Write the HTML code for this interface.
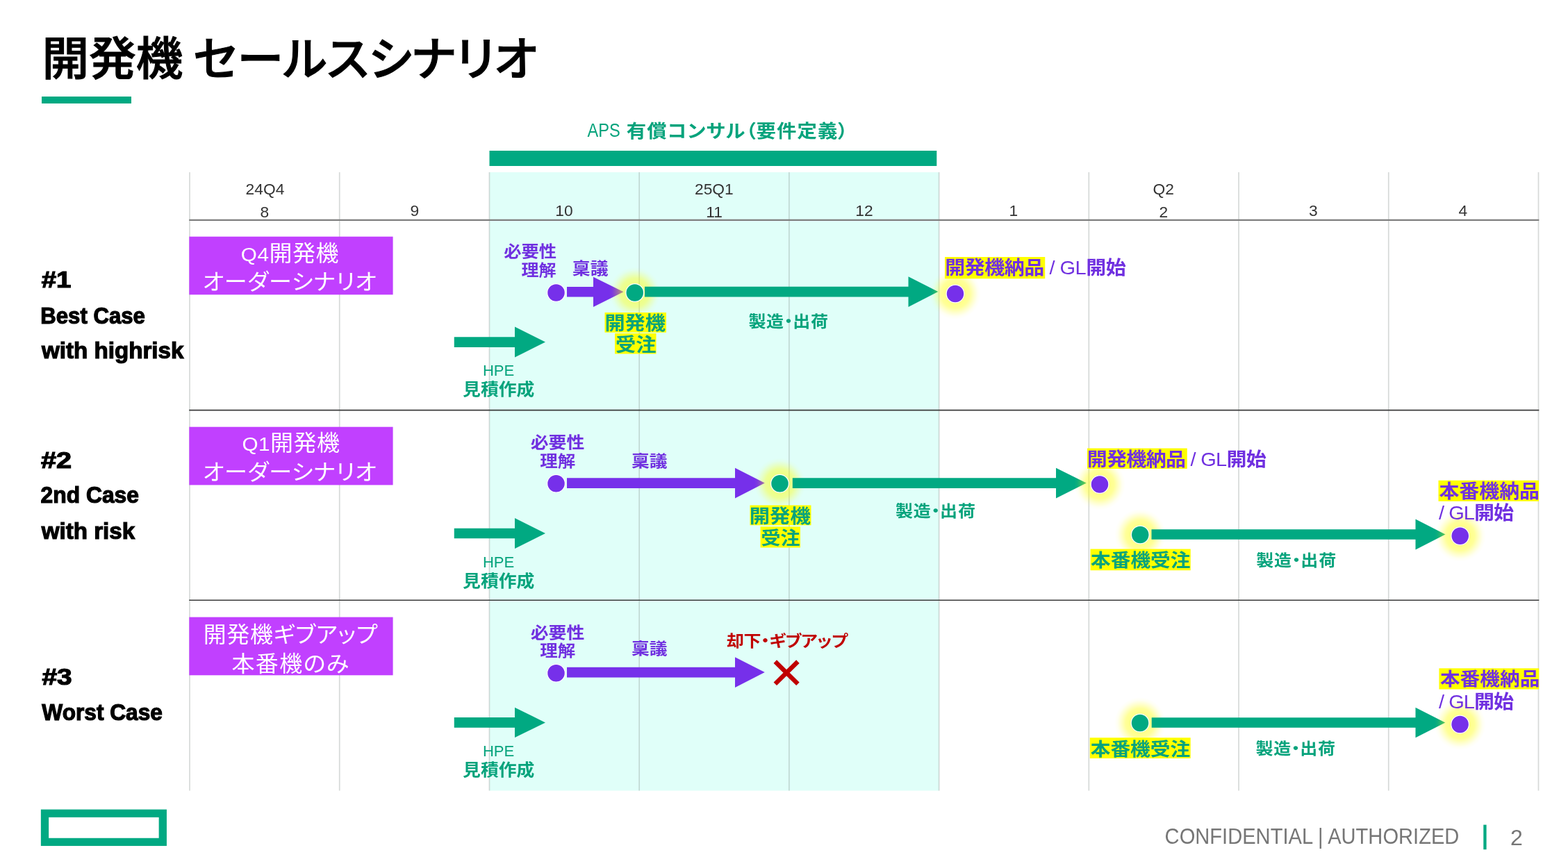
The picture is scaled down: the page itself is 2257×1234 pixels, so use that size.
<!DOCTYPE html>
<html lang="ja"><head><meta charset="utf-8"><title>開発機 セールスシナリオ</title>
<style>
html,body{margin:0;padding:0;background:#fff;}
body{width:2257px;height:1234px;overflow:hidden;position:relative;font-family:"Liberation Sans", "Noto Sans CJK JP", sans-serif;}
#slide{position:absolute;left:0;top:0;width:2257px;height:1234px;overflow:hidden;background:#fff;filter:blur(0.45px);}
#shapes{position:absolute;left:0;top:0;}
.t{position:absolute;white-space:nowrap;line-height:1;margin:0;padding:0;font-kerning:normal;transform-origin:50% 50%;}
.b{font-weight:700;} .l{font-weight:300;} .r{font-weight:400;} .m{font-weight:500;}
.g{color:#06A37C;} .p{color:#7030E0;} .w{color:#fff;} .k{color:#000;} .red{color:#C00000;}
.pa{font-feature-settings:"palt" 1;}
.ts{-webkit-text-stroke:1.1px #000;}
.rs{-webkit-text-stroke:1.2px #000;}
.q{font-size:0.9em;}
.hd{color:#333;} .ft{color:#767676;}
.md{display:inline-block;width:0.5em;text-indent:-0.25em;}

</style></head><body><div id="slide">
<svg id="shapes" width="2257" height="1234" viewBox="0 0 2257 1234">
<defs><radialGradient id="glow"><stop offset="0" stop-color="#ffff00" stop-opacity="0.46"/><stop offset="0.4" stop-color="#ffff00" stop-opacity="0.46"/><stop offset="0.56" stop-color="#ffff00" stop-opacity="0.4"/><stop offset="0.73" stop-color="#ffff00" stop-opacity="0.2"/><stop offset="0.88" stop-color="#ffff00" stop-opacity="0.05"/><stop offset="1" stop-color="#ffff00" stop-opacity="0"/></radialGradient></defs>
<rect x="704.50" y="248.00" width="647.00" height="890.50" fill="#E0FFF9" />
<rect x="704.50" y="217.00" width="643.80" height="22.00" fill="#01A982" />
<rect x="60.00" y="139.00" width="129.00" height="10.00" fill="#01A982" />
<line x1="273.00" y1="248" x2="273.00" y2="1138.5" stroke="#7f8a86" stroke-opacity="0.32" stroke-width="1.7"/>
<line x1="488.72" y1="248" x2="488.72" y2="1138.5" stroke="#7f8a86" stroke-opacity="0.32" stroke-width="1.7"/>
<line x1="704.44" y1="248" x2="704.44" y2="1138.5" stroke="#7f8a86" stroke-opacity="0.32" stroke-width="1.7"/>
<line x1="920.16" y1="248" x2="920.16" y2="1138.5" stroke="#7f8a86" stroke-opacity="0.32" stroke-width="1.7"/>
<line x1="1135.88" y1="248" x2="1135.88" y2="1138.5" stroke="#7f8a86" stroke-opacity="0.32" stroke-width="1.7"/>
<line x1="1351.60" y1="248" x2="1351.60" y2="1138.5" stroke="#7f8a86" stroke-opacity="0.32" stroke-width="1.7"/>
<line x1="1567.32" y1="248" x2="1567.32" y2="1138.5" stroke="#7f8a86" stroke-opacity="0.32" stroke-width="1.7"/>
<line x1="1783.04" y1="248" x2="1783.04" y2="1138.5" stroke="#7f8a86" stroke-opacity="0.32" stroke-width="1.7"/>
<line x1="1998.76" y1="248" x2="1998.76" y2="1138.5" stroke="#7f8a86" stroke-opacity="0.32" stroke-width="1.7"/>
<line x1="2214.48" y1="248" x2="2214.48" y2="1138.5" stroke="#7f8a86" stroke-opacity="0.32" stroke-width="1.7"/>
<line x1="272.2" y1="316.9" x2="2215.3" y2="316.9" stroke="#7f7f7f" stroke-width="2.4"/>
<line x1="272.2" y1="590.6" x2="2215.3" y2="590.6" stroke="#3a3a3a" stroke-width="1.6"/>
<line x1="272.2" y1="864.2" x2="2215.3" y2="864.2" stroke="#3a3a3a" stroke-width="1.6"/>
<rect x="272.30" y="340.70" width="293.30" height="83.60" fill="#C140FF" />
<rect x="272.30" y="614.70" width="293.30" height="83.70" fill="#C140FF" />
<rect x="272.30" y="888.60" width="293.30" height="83.70" fill="#C140FF" />
<rect x="870.50" y="450.00" width="88.50" height="28.75" fill="#FFFF00" />
<rect x="885.00" y="480.00" width="59.50" height="29.50" fill="#FFFF00" />
<rect x="1360.00" y="370.00" width="144.25" height="31.25" fill="#FFFF00" />
<rect x="1079.50" y="727.50" width="88.00" height="28.75" fill="#FFFF00" />
<rect x="1094.50" y="758.30" width="57.50" height="30.20" fill="#FFFF00" />
<rect x="1565.00" y="645.50" width="143.75" height="29.50" fill="#FFFF00" />
<rect x="1569.50" y="790.50" width="144.25" height="30.75" fill="#FFFF00" />
<rect x="2070.50" y="691.75" width="144.50" height="30.00" fill="#FFFF00" />
<rect x="1568.80" y="1062.20" width="144.90" height="29.80" fill="#FFFF00" />
<rect x="2071.40" y="962.30" width="143.90" height="30.20" fill="#FFFF00" />
<polygon points="816.00,413.00 854.00,413.00 854.00,398.70 897.50,420.30 854.00,441.90 854.00,427.60 816.00,427.60" fill="#7630EA"/>
<polygon points="816.00,688.20 1058.00,688.20 1058.00,673.70 1100.80,695.60 1058.00,717.50 1058.00,703.00 816.00,703.00" fill="#7630EA"/>
<polygon points="816.00,960.70 1058.00,960.70 1058.00,946.20 1100.80,968.10 1058.00,990.00 1058.00,975.50 816.00,975.50" fill="#7630EA"/>
<circle cx="913.75" cy="421.50" r="37" fill="url(#glow)"/>
<circle cx="1122.50" cy="696.25" r="37" fill="url(#glow)"/>
<circle cx="1641.25" cy="770.00" r="37" fill="url(#glow)"/>
<circle cx="1641.00" cy="1041.00" r="37" fill="url(#glow)"/>
<polygon points="653.75,485.30 741.00,485.30 741.00,470.60 785.00,492.60 741.00,514.60 741.00,499.90 653.75,499.90" fill="#01A982"/>
<polygon points="928.00,412.70 1307.50,412.70 1307.50,398.30 1350.30,420.10 1307.50,441.90 1307.50,427.50 928.00,427.50" fill="#01A982"/>
<polygon points="653.75,760.70 741.00,760.70 741.00,746.00 785.00,768.00 741.00,790.00 741.00,775.30 653.75,775.30" fill="#01A982"/>
<polygon points="1140.80,688.20 1520.00,688.20 1520.00,673.70 1563.80,695.60 1520.00,717.50 1520.00,703.00 1140.80,703.00" fill="#01A982"/>
<polygon points="1657.50,762.20 2037.50,762.20 2037.50,747.60 2080.50,769.50 2037.50,791.40 2037.50,776.80 1657.50,776.80" fill="#01A982"/>
<polygon points="653.75,1033.10 741.00,1033.10 741.00,1018.70 785.00,1040.40 741.00,1062.10 741.00,1047.70 653.75,1047.70" fill="#01A982"/>
<polygon points="1657.70,1033.20 2037.50,1033.20 2037.50,1018.80 2080.30,1040.50 2037.50,1062.20 2037.50,1047.80 1657.70,1047.80" fill="#01A982"/>
<circle cx="1375.00" cy="423.00" r="37" fill="url(#glow)"/>
<circle cx="1583.00" cy="697.50" r="37" fill="url(#glow)"/>
<circle cx="2101.75" cy="771.75" r="37" fill="url(#glow)"/>
<circle cx="2101.60" cy="1043.00" r="37" fill="url(#glow)"/>
<circle cx="913.75" cy="421.50" r="12.9" fill="#01A982" stroke="#fff" stroke-width="1.3"/>
<circle cx="1122.50" cy="696.25" r="12.9" fill="#01A982" stroke="#fff" stroke-width="1.3"/>
<circle cx="1641.25" cy="770.00" r="12.9" fill="#01A982" stroke="#fff" stroke-width="1.3"/>
<circle cx="1641.00" cy="1041.00" r="12.9" fill="#01A982" stroke="#fff" stroke-width="1.3"/>
<circle cx="1375.00" cy="423.00" r="12.9" fill="#7630EA" stroke="#fff" stroke-width="1.3"/>
<circle cx="1583.00" cy="697.50" r="12.9" fill="#7630EA" stroke="#fff" stroke-width="1.3"/>
<circle cx="2101.75" cy="771.75" r="12.9" fill="#7630EA" stroke="#fff" stroke-width="1.3"/>
<circle cx="2101.60" cy="1043.00" r="12.9" fill="#7630EA" stroke="#fff" stroke-width="1.3"/>
<circle cx="800.50" cy="421.50" r="12.9" fill="#7630EA" stroke="#fff" stroke-width="1.3"/>
<circle cx="800.50" cy="696.25" r="12.9" fill="#7630EA" stroke="#fff" stroke-width="1.3"/>
<circle cx="800.50" cy="969.25" r="12.9" fill="#7630EA" stroke="#fff" stroke-width="1.3"/>
<path d="M1115.8 952.6 L1148.4 984.8 M1148.4 952.6 L1115.8 984.8" stroke="#C00000" stroke-width="6.4" fill="none"/>
<rect x="64.5" y="1171.2" width="169.8" height="41.2" fill="none" stroke="#01A982" stroke-width="11.3"/>
<rect x="2135.30" y="1187.60" width="4.30" height="35.60" fill="#01A982" />
</svg>
<div class="t m k ts" id="title_a" style="left:60.60px;top:52.30px;font-size:67.64px;transform:scale(1.0000,0.9700);">開発機</div>
<div class="t m k pa ts" id="title_b" style="left:278.30px;top:52.90px;font-size:66.80px;letter-spacing:0.114px;">セールスシナリオ</div>
<div class="t r g" id="aps_a" style="left:840.62px;top:173.75px;font-size:28.00px;transform:scale(0.8434,1.0000);">APS</div>
<div class="t b g pa" id="aps" style="left:901.75px;top:174.50px;font-size:28.40px;letter-spacing:1.042px;transform:scale(1.0000,0.9300);">有償コンサル（要件定義）</div>
<div class="t r hd" id="q_24q4" style="left:353.55px;top:261.00px;font-size:22.80px;">24Q4</div>
<div class="t r hd" id="q_25q1" style="left:1000.00px;top:261.00px;font-size:22.80px;">25Q1</div>
<div class="t r hd" id="q_q2" style="left:1659.50px;top:261.00px;font-size:22.80px;">Q2</div>
<div class="t r hd" id="m_8" style="left:374.50px;top:293.60px;font-size:22.80px;">8</div>
<div class="t r hd" id="m_9" style="left:590.50px;top:292.40px;font-size:22.80px;">9</div>
<div class="t r hd" id="m_10" style="left:799.25px;top:292.40px;font-size:22.80px;">10</div>
<div class="t r hd" id="m_11" style="left:1016.25px;top:293.60px;font-size:22.80px;">11</div>
<div class="t r hd" id="m_12" style="left:1231.25px;top:292.40px;font-size:22.80px;">12</div>
<div class="t r hd" id="m_1" style="left:1452.50px;top:292.40px;font-size:22.80px;">1</div>
<div class="t r hd" id="m_2" style="left:1668.50px;top:293.60px;font-size:22.80px;">2</div>
<div class="t r hd" id="m_3" style="left:1884.00px;top:292.40px;font-size:22.80px;">3</div>
<div class="t r hd" id="m_4" style="left:2099.50px;top:292.40px;font-size:22.80px;">4</div>
<div class="t b k rs" id="l1a" style="left:62.70px;top:387.30px;font-size:32.50px;transform:scale(1.1810,1.0000);">#1</div>
<div class="t b k rs" id="l1b" style="left:55.30px;top:438.75px;font-size:32.50px;transform:scale(0.9580,1.0000);">Best Case</div>
<div class="t b k rs" id="l1c" style="left:62.10px;top:489.10px;font-size:32.50px;transform:scale(1.0202,1.0000);">with highrisk</div>
<div class="t b k rs" id="l2a" style="left:63.40px;top:646.65px;font-size:32.50px;transform:scale(1.2211,1.0000);">#2</div>
<div class="t b k rs" id="l2b" style="left:57.40px;top:697.45px;font-size:32.50px;transform:scale(0.9789,1.0000);">2nd Case</div>
<div class="t b k rs" id="l2c" style="left:61.40px;top:749.00px;font-size:32.50px;transform:scale(1.0205,1.0000);">with risk</div>
<div class="t b k rs" id="l3a" style="left:63.80px;top:958.50px;font-size:32.50px;transform:scale(1.1945,1.0000);">#3</div>
<div class="t b k rs" id="l3b" style="left:57.80px;top:1010.35px;font-size:32.50px;transform:scale(0.9734,1.0000);">Worst Case</div>
<div class="t r w pa" id="b1a" style="left:346.80px;top:348.50px;font-size:33.00px;letter-spacing:0.520px;transform:scale(1.0000,0.9500);"><span class="q">Q4</span>開発機</div>
<div class="t r w pa" id="b1b" style="left:291.75px;top:390.00px;font-size:33.00px;letter-spacing:0.800px;transform:scale(1.0000,0.9500);">オーダーシナリオ</div>
<div class="t r w pa" id="b2a" style="left:348.38px;top:622.12px;font-size:33.00px;letter-spacing:0.500px;transform:scale(1.0000,0.9500);"><span class="q">Q1</span>開発機</div>
<div class="t r w pa" id="b2b" style="left:292.12px;top:664.12px;font-size:33.00px;letter-spacing:0.743px;transform:scale(1.0000,0.9500);">オーダーシナリオ</div>
<div class="t r w pa" id="b3a" style="left:292.65px;top:897.50px;font-size:33.00px;letter-spacing:0.686px;transform:scale(1.0000,0.9500);">開発機ギブアップ</div>
<div class="t r w pa" id="b3b" style="left:333.40px;top:940.35px;font-size:33.00px;letter-spacing:1.440px;transform:scale(1.0000,0.9500);">本番機のみ</div>
<div class="t b p" id="p1a" style="left:725.25px;top:350.00px;font-size:25.31px;transform:scale(1.0000,0.9000);">必要性</div>
<div class="t b p" id="p1b" style="left:750.50px;top:377.00px;font-size:25.02px;transform:scale(1.0000,0.9000);">理解</div>
<div class="t b p" id="p1c" style="left:823.75px;top:375.25px;font-size:25.94px;transform:scale(1.0000,0.9000);">稟議</div>
<div class="t b p" id="p2a" style="left:763.75px;top:625.00px;font-size:25.85px;transform:scale(1.0000,0.9000);">必要性</div>
<div class="t b p" id="p2b" style="left:777.25px;top:652.00px;font-size:25.48px;transform:scale(1.0000,0.9000);">理解</div>
<div class="t b p" id="p2c" style="left:909.00px;top:651.75px;font-size:25.83px;transform:scale(1.0000,0.9000);">稟議</div>
<div class="t b p" id="p3a" style="left:763.75px;top:898.75px;font-size:25.85px;transform:scale(1.0000,0.9000);">必要性</div>
<div class="t b p" id="p3b" style="left:777.25px;top:925.38px;font-size:25.48px;transform:scale(1.0000,0.9000);">理解</div>
<div class="t b p" id="p3c" style="left:909.00px;top:921.75px;font-size:25.83px;transform:scale(1.0000,0.9000);">稟議</div>
<div class="t b g" id="h1a" style="left:870.45px;top:452.32px;font-size:29.16px;transform:scale(1.0000,0.9300);">開発機</div>
<div class="t b g" id="h1b" style="left:885.95px;top:482.95px;font-size:29.25px;transform:scale(1.0000,0.9300);">受注</div>
<div class="t b g" id="h2a" style="left:1078.70px;top:728.83px;font-size:29.41px;transform:scale(1.0000,0.9300);">開発機</div>
<div class="t b g" id="h2b" style="left:1095.45px;top:762.35px;font-size:28.05px;transform:scale(1.0000,0.9300);">受注</div>
<div class="t b g" id="h2d" style="left:1570.08px;top:793.33px;font-size:28.67px;transform:scale(1.0000,0.9300);">本番機受注</div>
<div class="t b g" id="h3d" style="left:1569.75px;top:1064.50px;font-size:28.68px;transform:scale(1.0000,0.9300);">本番機受注</div>
<div class="t b p" id="h1c" style="left:1360.30px;top:372.05px;font-size:29.00px;letter-spacing:-0.495px;transform:scale(1.0000,0.9300);">開発機納品<span class="r gl"> / GL</span>開始</div>
<div class="t b p" id="h2c" style="left:1564.80px;top:647.50px;font-size:29.00px;letter-spacing:-0.713px;transform:scale(1.0000,0.9300);">開発機納品<span class="r gl"> / GL</span>開始</div>
<div class="t b p" id="h2e" style="left:2071.45px;top:694.20px;font-size:28.91px;transform:scale(1.0000,0.9300);">本番機納品</div>
<div class="t b p" id="h2f" style="left:2071.00px;top:725.38px;font-size:29.00px;letter-spacing:-0.960px;transform:scale(1.0000,0.9300);"><span class="r gl">/ GL</span>開始</div>
<div class="t b p" id="h3e" style="left:2072.95px;top:963.90px;font-size:28.69px;transform:scale(1.0000,0.9300);">本番機納品</div>
<div class="t b p" id="h3f" style="left:2071.00px;top:997.40px;font-size:29.00px;letter-spacing:-0.960px;transform:scale(1.0000,0.9300);"><span class="r gl">/ GL</span>開始</div>
<div class="t b g" id="s1" style="left:1077.38px;top:451.12px;font-size:25.00px;letter-spacing:0.700px;transform:scale(1.0000,0.9200);">製造<span class="md">・</span>出荷</div>
<div class="t b g" id="s2a" style="left:1289.00px;top:723.88px;font-size:25.00px;letter-spacing:0.800px;transform:scale(1.0000,0.9200);">製造<span class="md">・</span>出荷</div>
<div class="t b g" id="s2b" style="left:1808.25px;top:795.25px;font-size:25.00px;letter-spacing:0.800px;transform:scale(1.0000,0.9200);">製造<span class="md">・</span>出荷</div>
<div class="t b g" id="s3" style="left:1807.55px;top:1066.30px;font-size:25.00px;letter-spacing:0.640px;transform:scale(1.0000,0.9200);">製造<span class="md">・</span>出荷</div>
<div class="t r g" id="hpe1" style="left:694.50px;top:522.75px;font-size:22.00px;transform:scale(1.0026,1.0000);">HPE</div>
<div class="t b g" id="mit1" style="left:666.12px;top:549.15px;font-size:25.83px;transform:scale(1.0000,0.9200);">見積作成</div>
<div class="t r g" id="hpe2" style="left:694.50px;top:798.75px;font-size:22.00px;transform:scale(1.0026,1.0000);">HPE</div>
<div class="t b g" id="mit2" style="left:666.12px;top:825.15px;font-size:25.83px;transform:scale(1.0000,0.9200);">見積作成</div>
<div class="t r g" id="hpe3" style="left:694.50px;top:1070.75px;font-size:22.00px;transform:scale(1.0026,1.0000);">HPE</div>
<div class="t b g" id="mit3" style="left:666.12px;top:1097.15px;font-size:25.83px;transform:scale(1.0000,0.9200);">見積作成</div>
<div class="t b red pa" id="red" style="left:1045.90px;top:910.85px;font-size:25.00px;letter-spacing:-0.320px;transform:scale(1.0000,0.9300);">却下・ギブアップ</div>
<div class="t r ft" id="conf" style="left:1655.12px;top:1188.12px;font-size:32.10px;transform:scale(0.9074,1.0000);">CONFIDENTIAL | AUTHORIZED</div>
<div class="t r ft" id="pg" style="left:2173.88px;top:1189.60px;font-size:32.10px;">2</div>
</div></body></html>
